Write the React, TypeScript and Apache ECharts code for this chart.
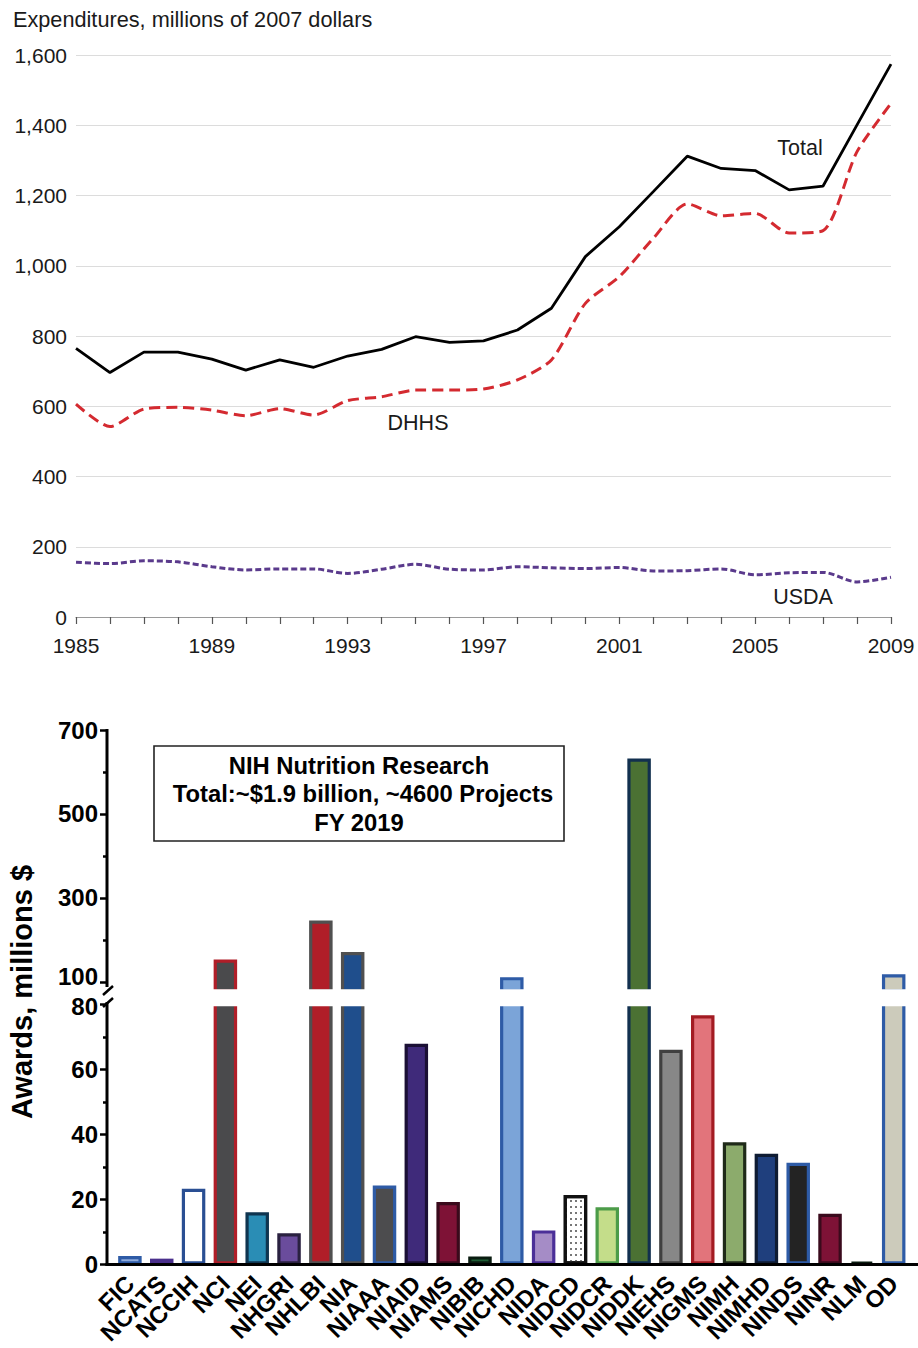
import React, { useEffect, useRef } from "react";
import * as echarts from "echarts";

// ---------- Top chart data ----------
const years = ["1985", "1986", "1987", "1988", "1989", "1990", "1991", "1992", "1993", "1994", "1995", "1996", "1997", "1998", "1999", "2000", "2001", "2002", "2003", "2004", "2005", "2006", "2007", "2008", "2009"];
const totalSpending = [765, 696, 754, 754, 734, 703, 732, 711, 743, 762, 798, 782, 786, 817, 879, 1026, 1111, 1211, 1312, 1277, 1271, 1216, 1227, 1401, 1574];
const dhhsSpending = [606, 542, 592, 597, 589, 573, 593, 575, 616, 627, 646, 646, 649, 675, 732, 893, 969, 1078, 1176, 1142, 1149, 1093, 1100, 1325, 1462];
const usdaSpending = [156, 152, 160, 157, 143, 134, 137, 137, 124, 136, 150, 136, 134, 143, 140, 138, 141, 131, 132, 137, 120, 126, 127, 100, 113];

// ---------- Bottom chart data ----------
const institutes = ["FIC", "NCATS", "NCCIH", "NCI", "NEI", "NHGRI", "NHLBI", "NIA", "NIAAA", "NIAID", "NIAMS", "NIBIB", "NICHD", "NIDA", "NIDCD", "NIDCR", "NIDDK", "NIEHS", "NIGMS", "NIMH", "NIMHD", "NINDS", "NINR", "NLM", "OD"];
const awards = [2.6, 1.8, 23.3, 153, 16.1, 9.6, 246, 171, 24.3, 67.9, 19.2, 2.5, 111, 10.5, 21.4, 17.6, 632, 66.1, 76.7, 37.6, 34.1, 31.3, 15.6, 0.8, 118];
const fillColors = ["#8eaadb", "#6b4fa3", "#ffffff", "#4a4a4c", "#2a8db5", "#6a4c9c", "#b01e28", "#1f4e8c", "#4c4c4e", "#3f2a7a", "#7e1236", "#1e5c34", "#7ba4d8", "#a58cc6", "#ffffff", "#c4dd8a", "#4b7133", "#878787", "#e2747b", "#8cab6c", "#1f3f7d", "#232323", "#7e1236", "#124028", "#cccbbb"];
const borderColors = ["#2e5ba6", "#4a2f8c", "#2a4f93", "#b01e28", "#0f3550", "#2a2140", "#505050", "#505050", "#2e5ba6", "#1b1035", "#3a0a1c", "#0a1c10", "#2e5ba6", "#4b2f98", "#111111", "#4c9c49", "#12304f", "#404040", "#a31b22", "#1f2a19", "#0f1c33", "#2e5ba6", "#3a0a1c", "#0a1c10", "#2e5ba6"];
const dottedInstitute = "NIDCD";
const upperMajorTicks = [100, 300, 500, 700];
const upperMinorTicks = [200, 400, 600];
const breakValue = 80;
const breakBottomLabel = 100;

const FONT = "'Liberation Sans', Arial, Helvetica, sans-serif";

export default function App() {
  const ref = useRef<HTMLDivElement>(null);

  useEffect(() => {
    document.body.style.margin = "0";
    if (!ref.current) return;
    const chart = echarts.init(ref.current, null, { renderer: "svg" });

    const itemFor = (v: number, i: number, upper: boolean) => {
      const itemStyle: any = {
        color: fillColors[i],
        borderColor: borderColors[i],
        borderWidth: 3.2,
      };
      if (institutes[i] === dottedInstitute) {
        itemStyle.decal = {
          symbol: "rect",
          symbolSize: 1,
          color: "#777",
          backgroundColor: "#ffffff",
          dashArrayX: [1.5, 3],
          dashArrayY: [1.5, 3.5],
        };
      }
      return { value: upper ? (v > breakValue ? v : "-") : v, itemStyle };
    };

    const axisBold = { fontFamily: FONT, fontWeight: "bold" as const, fontSize: 24, color: "#000" };
    const blackLine = { color: "#000", width: 2.5 };

    const option: any = {
      animation: false,
      grid: [
        { left: 114, top: 730, width: 795.6, height: 261 }, // upper bar segment
        { left: 114, top: 1004.5, width: 795.6, height: 260 }, // lower bar segment
        { left: 76, top: 55, width: 815, height: 562 }, // line chart
      ],
      xAxis: [
        { type: "category", gridIndex: 0, data: institutes, show: false },
        {
          type: "category",
          gridIndex: 1,
          data: institutes,
          axisLine: { show: false },
          axisTick: { alignWithLabel: true, length: 7, lineStyle: blackLine },
          axisLabel: { ...axisBold, fontSize: 24, rotate: 45, interval: 0, margin: 15 },
        },
        {
          type: "category",
          gridIndex: 2,
          data: years,
          boundaryGap: false,
          axisLine: { lineStyle: { color: "#9a9a9a", width: 1.2 } },
          axisTick: { interval: 0, length: 7, lineStyle: { color: "#555", width: 1.2 } },
          axisLabel: { interval: 3, fontFamily: FONT, fontSize: 21, color: "#1a1a1a", margin: 18 },
        },
      ],
      yAxis: [
        {
          type: "value",
          gridIndex: 0,
          position: "left",
          min: 78,
          max: 700,
          offset: 7,
          axisLine: { show: false },
          splitLine: { show: false },
          axisTick: { show: true, customValues: upperMajorTicks, length: 7, lineStyle: blackLine },
          axisLabel: {
            ...axisBold,
            customValues: upperMajorTicks,
            margin: 9,
            formatter: (v: number) => (v === breakBottomLabel ? `{lift|${v}}` : `${v}`),
            rich: { lift: { ...axisBold, padding: [0, 0, 10, 0] } },
          },
        },
        {
          type: "value",
          gridIndex: 0,
          position: "left",
          min: 78,
          max: 700,
          offset: 7,
          axisLine: { show: false },
          splitLine: { show: false },
          axisTick: { show: true, customValues: upperMinorTicks, length: 4, lineStyle: blackLine },
          axisLabel: { show: false },
        },
        {
          type: "value",
          gridIndex: 1,
          position: "left",
          min: 0,
          max: breakValue,
          interval: 20,
          offset: 7,
          axisLine: { show: false },
          splitLine: { show: false },
          axisTick: { show: true, length: 7, lineStyle: blackLine },
          minorTick: { show: true, splitNumber: 2, length: 4, lineStyle: blackLine },
          axisLabel: {
            ...axisBold,
            margin: 9,
            formatter: (v: number) => (v === breakValue ? `{drop|${v}}` : `${v}`),
            rich: { drop: { ...axisBold, padding: [4, 0, 0, 0] } },
          },
        },
        {
          type: "value",
          gridIndex: 2,
          min: 0,
          max: 1600,
          interval: 200,
          axisLine: { show: false },
          axisTick: { show: false },
          splitLine: { lineStyle: { color: "#dcdcdc", width: 1 } },
          axisLabel: {
            fontFamily: FONT,
            fontSize: 21,
            color: "#1a1a1a",
            margin: 9,
            formatter: (v: number) => v.toLocaleString("en-US"),
          },
        },
      ],
      series: [
        {
          name: "Awards (upper)",
          type: "bar",
          xAxisIndex: 0,
          yAxisIndex: 0,
          barWidth: 23.5,
          clip: true,
          data: awards.map((v, i) => itemFor(v, i, true)),
        },
        {
          name: "Awards (lower)",
          type: "bar",
          xAxisIndex: 1,
          yAxisIndex: 2,
          barWidth: 23.5,
          clip: true,
          data: awards.map((v, i) => itemFor(v, i, false)),
        },
        {
          name: "USDA",
          type: "line",
          xAxisIndex: 2,
          yAxisIndex: 3,
          data: usdaSpending,
          symbol: "none",
          smooth: 0.3,
          lineStyle: { color: "#5a3a8c", width: 3, type: [6, 3] },
        },
        {
          name: "DHHS",
          type: "line",
          xAxisIndex: 2,
          yAxisIndex: 3,
          data: dhhsSpending,
          symbol: "none",
          smooth: 0.25,
          lineStyle: { color: "#d42a30", width: 3, type: [11, 6] },
        },
        {
          name: "Total",
          type: "line",
          xAxisIndex: 2,
          yAxisIndex: 3,
          data: totalSpending,
          symbol: "none",
          lineStyle: { color: "#000", width: 2.8 },
        },
      ],
      graphic: [
        // top chart texts
        { type: "text", left: 13, top: 8, style: { text: "Expenditures, millions of 2007 dollars", fontFamily: FONT, fontSize: 21.7, fill: "#1a1a1a" } },
        { type: "text", x: 800, y: 148, style: { text: "Total", fontFamily: FONT, fontSize: 21.5, fill: "#1a1a1a", align: "center", verticalAlign: "middle" } },
        { type: "text", x: 418, y: 423, style: { text: "DHHS", fontFamily: FONT, fontSize: 21.5, fill: "#1a1a1a", align: "center", verticalAlign: "middle" } },
        { type: "text", x: 803, y: 597, style: { text: "USDA", fontFamily: FONT, fontSize: 21.5, fill: "#1a1a1a", align: "center", verticalAlign: "middle" } },
        // mask for the axis break
        { type: "rect", shape: { x: 112, y: 989.3, width: 806, height: 17 }, style: { fill: "#ffffff" }, z: 50 },
        // bottom axes
        { type: "line", shape: { x1: 107, y1: 729, x2: 107, y2: 987 }, style: { stroke: "#000", lineWidth: 3 }, z: 60 },
        { type: "line", shape: { x1: 103, y1: 995, x2: 113, y2: 986 }, style: { stroke: "#000", lineWidth: 2.5 }, z: 60 },
        { type: "line", shape: { x1: 103, y1: 1007, x2: 113, y2: 998 }, style: { stroke: "#000", lineWidth: 2.5 }, z: 60 },
        { type: "line", shape: { x1: 107, y1: 1002, x2: 107, y2: 1266 }, style: { stroke: "#000", lineWidth: 3 }, z: 60 },
        { type: "line", shape: { x1: 105.5, y1: 1264.5, x2: 918, y2: 1264.5 }, style: { stroke: "#000", lineWidth: 3 }, z: 60 },
        // y axis title
        {
          type: "text",
          x: 22,
          y: 992,
          rotation: Math.PI / 2,
          style: { text: "Awards, millions $", fontFamily: FONT, fontWeight: "bold", fontSize: 29, fill: "#000", align: "center", verticalAlign: "middle" },
        },
        // title box
        { type: "rect", shape: { x: 154, y: 746, width: 410, height: 95 }, style: { fill: "#fff", stroke: "#222", lineWidth: 1.6 }, z: 55 },
        { type: "text", x: 359, y: 765, z: 56, style: { text: "NIH Nutrition Research", fontFamily: FONT, fontWeight: "bold", fontSize: 23.8, fill: "#000", align: "center", verticalAlign: "middle" } },
        { type: "text", x: 363, y: 793, z: 56, style: { text: "Total:~$1.9 billion, ~4600 Projects", fontFamily: FONT, fontWeight: "bold", fontSize: 23.8, fill: "#000", align: "center", verticalAlign: "middle" } },
        { type: "text", x: 359, y: 822, z: 56, style: { text: "FY 2019", fontFamily: FONT, fontWeight: "bold", fontSize: 23.8, fill: "#000", align: "center", verticalAlign: "middle" } },
      ],
    };

    chart.setOption(option);
    return () => chart.dispose();
  }, []);

  return <div ref={ref} style={{ width: 918, height: 1348 }} />;
}
